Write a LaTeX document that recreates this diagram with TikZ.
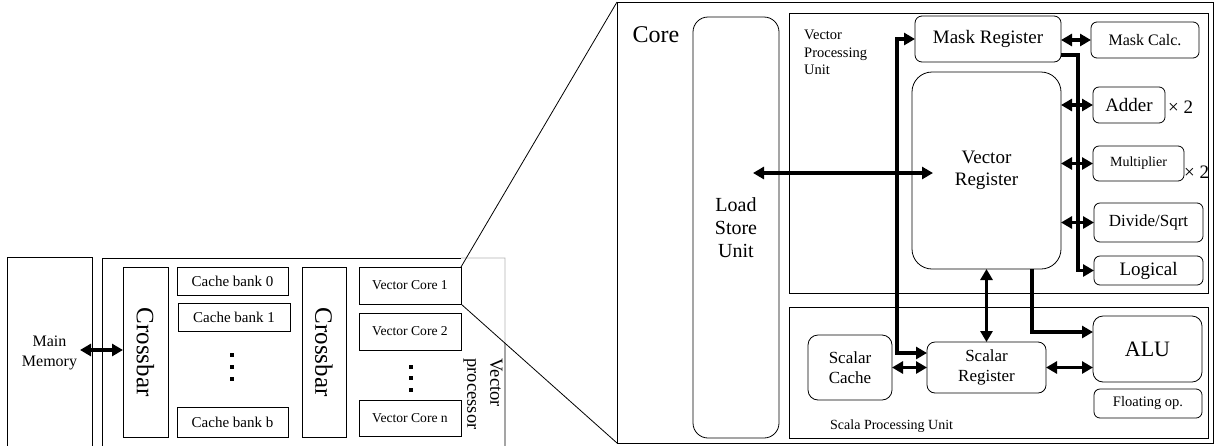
\documentclass[tikz,border=0pt]{standalone}
\usepackage{fontspec}
\setmainfont{Liberation Serif}
\usetikzlibrary{arrows.meta,calc}
\newcommand\fs[2]{\fontsize{#1}{#2}\selectfont}
\tikzset{
  span/.style args={(#1,#2)(#3,#4)}{
    at={({(#1+#3)/2},{(#2+#4)/2})}, anchor=center,
    minimum width={(#3-#1)*1pt}, minimum height={(#4-#2)*1pt}},
  blk/.style={draw, line width=0.8pt, inner sep=0pt, outer sep=0pt},
  rblk/.style={blk, rounded corners=#1},
  rblk/.default=6pt,
  area/.style={inner sep=0pt, outer sep=0pt},
  bus/.style={line width=3.8pt},
  thinline/.style={line width=0.8pt},
}
\begin{document}
\begin{tikzpicture}[x=1pt, y=-1pt, >={Triangle[length=11pt,width=12pt]}]
\useasboundingbox (0,0) rectangle (1215,445);
\clip (0,0) rectangle (1215,445);

% ---------------- memory and vector processor ----------------
\node[blk, span={(7,257)(92,449)}, align=center, font=\fs{16}{20}] (mm) {Main\\Memory};
\node[area, span={(102,258)(505,452)}] (vp) {};

\node[blk, span={(123,267)(168,437)}] (xb1) {};
\node[rotate=-90, font=\fs{25}{30}] at (xb1) {Crossbar};

\node[blk, span={(177,267)(288,295)}, font=\fs{15}{18}] (cb0) {Cache bank 0};
\node[blk, span={(178,303)(290,331)}, font=\fs{15}{18}] (cb1) {Cache bank 1};
\node[blk, span={(177,407)(288,437)}, font=\fs{15}{18}] (cbb) {Cache bank b};
\foreach \y in {355,367,379} \fill (230,\y-2) rectangle (234,\y+2);

\node[blk, span={(302,267)(346,437)}] (xb2) {};
\node[rotate=-90, font=\fs{25}{30}] at (xb2) {Crossbar};

\node[blk, span={(359,267)(461,304)}, font=\fs{13.6}{16}] (vc1) {Vector Core 1};
\node[blk, span={(359,313)(461,350)}, font=\fs{13.6}{16}] (vc2) {Vector Core 2};
\node[blk, span={(359,400)(461,436)}, font=\fs{13.6}{16}] (vcn) {Vector Core n};
\foreach \y in {367,378,390} \fill (409,\y-2) rectangle (413,\y+2);

\node[rotate=-90, align=left, font=\fs{18.5}{23}] (vplabel) at (483,394) {Vector\\processor};

\draw[bus,<->] ($(mm.east |- xb1.west)+(-12,-2)$) -- ($(xb1.west)+(0,-2)$);

% ---------------- core ----------------
\node[draw, line width=1pt, area, span={(617,2)(1213,443)}] (core) {};
\node[anchor=base, font=\fs{24}{28}] (corelabel) at (656,42) {Core};

% vector processor outline and the zoom lines
\coordinate (cut) at (intersection of vc1.south east--core.south west and vp.north east--vp.south east);
\draw[thinline] (vp.south west) -- (vp.north west) -- (vp.north west -| vc1.east);
\draw[thinline, black!30] (vp.north west -| vc1.east) -- (vp.north east) -- (cut);
\draw[thinline] (cut) -- (vp.south east);
\draw[thinline] (vc1.north east) -- (core.north west);
\draw[thinline] (vc1.south east) -- (core.south west);

\node[rblk=15pt, span={(693,17)(779,438)}, align=center, font=\fs{20}{23}] (lsu) {Load\\Store\\Unit};

\node[blk, span={(789,13)(1208,293)}] (vpu) {};
\node[anchor=north west, align=left, inner sep=0pt, font=\fs{14.5}{17.5}] (vpulabel) at (804,30) {Vector\\Processing\\Unit};
\node[blk, span={(789,307)(1208,438)}] (spu) {};
\node[anchor=base west, inner sep=0pt, font=\fs{14}{17}] (spulabel) at (830,429) {Scala Processing Unit};

\node[rblk=7pt, span={(915,16)(1061,62)}, font=\fs{19}{22}] (mr) {Mask Register};
\node[rblk, span={(1091,22)(1199,58)}, font=\fs{16}{19}] (mc) {Mask Calc.};
\node[rblk=20pt, span={(912,72)(1061,269)}, align=center, font=\fs{19}{22}] (vr) {Vector\\Register};
\node[rblk, span={(1093,87)(1165,123)}, font=\fs{19}{22}] (add) {Adder};
\node[anchor=west, inner sep=0pt, font=\fs{19}{22}] (addx) at (1168,107) {× 2};
\node[rblk, span={(1093,146)(1184,181)}, font=\fs{14}{17}] (mul) {Multiplier};
\node[anchor=west, inner sep=0pt, font=\fs{19}{22}] (mulx) at (1184,172) {× 2};
\node[rblk, span={(1094,203)(1203,242)}, font=\fs{17}{20}] (div) {Divide/Sqrt};
\node[rblk, span={(1094,256)(1203,285)}, font=\fs{19}{22}] (log) {Logical};

\node[rblk=10pt, span={(808,335)(892,400)}, align=center, font=\fs{17}{20}] (sc) {Scalar\\Cache};
\node[rblk=8pt, span={(927,342)(1046,393)}, align=center, font=\fs{17}{20}] (sr) {Scalar\\Register};
\node[rblk=10pt, span={(1093,316)(1202,382)}, font=\fs{22}{26}] (alu) {ALU};
\node[rblk, span={(1094,389)(1202,418)}, font=\fs{14.5}{17}] (fop) {Floating op.};

% ---------------- data paths ----------------
\draw[bus,<->] ($(lsu.east |- vr.west)+(-26,2.5)$) -- ($(vr.west)+(21,2.5)$);

\coordinate (j1) at (897,353);
\draw[bus,<->] (mr.west) -| (j1) -- (sr.west |- j1);

\draw[bus,<->] (vr.south) -- (sr.north);

\coordinate (j2) at (1032,332);
\draw[bus,->] (j2 |- vr.south) -- (j2) -- (alu.west |- j2);

\draw[bus,<->] (sr.east) -- (sr.east -| alu.west);
\draw[bus,<->] (sc.east |- sr.west) -- (sr.west);

\draw[bus,<->] (mr.east |- mc.west) -- (mc.west);
\draw[bus,<->] (vr.east |- add.west) -- (add.west);
\draw[bus,<->] (vr.east |- mul.west) -- (mul.west);
\draw[bus,<->] (vr.east |- div.west) -- (div.west);

\coordinate (j3) at (1078,55);
\draw[bus,->] (mr.east |- j3) -- (j3) |- (log.west);
\end{tikzpicture}
\end{document}
